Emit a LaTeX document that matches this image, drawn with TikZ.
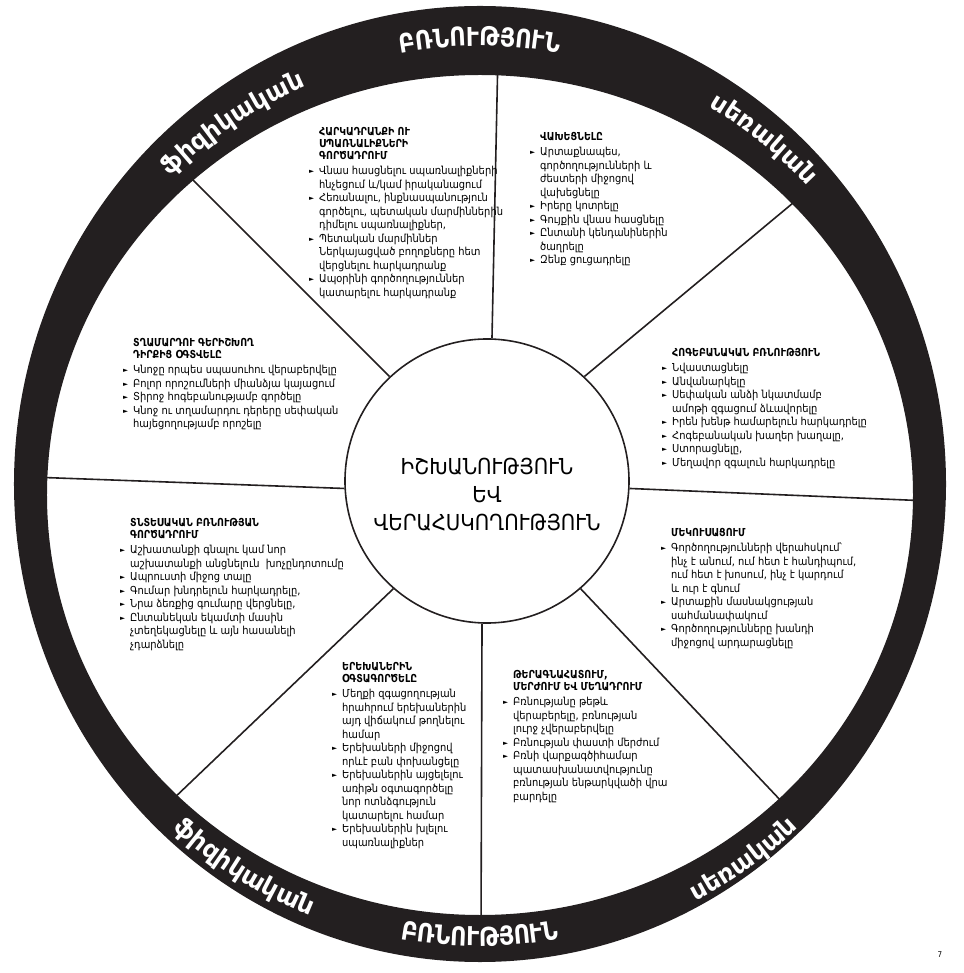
\documentclass[tikz,border=0pt]{standalone}
\usepackage{fontspec}
\setmainfont{DejaVu Sans Condensed}
\newfontfamily\hdfont{DejaVu Sans}[FakeStretch=0.86]
\newfontfamily\symfont{DejaVu Sans}
\newfontfamily\ringfont{DejaVu Sans}
\usetikzlibrary{decorations.text}

\definecolor{ringblack}{RGB}{35,31,32}

\newcommand{\bl}{\makebox[10pt][l]{\symfont\fontsize{6.5}{6.5}\selectfont\raisebox{1pt}{►}}}
\newcommand{\ct}{\hspace*{10pt}}
\newcommand{\hd}[1]{\ct{\hdfont\bfseries\fontsize{11}{12}\selectfont #1}}
\newcommand{\ringlbl}{\ringfont\bfseries\fontsize{25}{25}\selectfont}
\newcommand{\ringcaps}{\hdfont\bfseries\fontsize{26}{26}\selectfont}

\begin{document}
\begin{tikzpicture}[x=1pt,y=1pt]

	\tikzstyle{segment}=[anchor=north west,inner sep=0pt,align=left,
		font=\fontsize{11}{13.5}\selectfont]
	\tikzstyle{spoke}=[line width=1.6pt,draw=ringblack]
	\tikzstyle{ringtext}=[decorate,decoration={text along path,text align=center,text color=white}]

	\useasboundingbox (-480,-491) rectangle (483,482);

	% spokes first, the ring covers their outer ends
	\node[circle,draw=ringblack,line width=1.6pt,minimum size=284pt,inner sep=0pt] (core) at (7,1) {};
	\node[align=center,font=\fontsize{22}{28}\selectfont] (power) at (7,-13) {ԻՇԽԱՆՈՒԹՅՈՒՆ\\ԵՎ\\ՎԵՐԱՀՍԿՈՂՈՒԹՅՈՒՆ};

	\coordinate (rim1) at (18,430);
	\coordinate (rim2) at (331,294);
	\coordinate (rim3) at (450,-19);
	\coordinate (rim4) at (320,-339);
	\coordinate (rim5) at (1,-450);
	\coordinate (rim6) at (-310,-320);
	\coordinate (rim7) at (-450,5);
	\coordinate (rim8) at (-300,315);

	\foreach \a/\r in {88.8/rim1,47/rim2,-3.6/rim3,-49.6/rim4,268/rim5,229/rim6,183.6/rim7,133.3/rim8}
		\draw[spoke] (core.\a) -- (\r);

	\fill[ringblack,even odd rule] (0,-2) ellipse [x radius=466,y radius=478] (0,-13) ellipse [x radius=433,y radius=420];

	\path[ringtext,decoration={text={|\ringcaps|ԲՌՆՈՒԹՅՈՒՆ}}] (0,-8) ++(115:444) arc[start angle=115,end angle=65,radius=444];
	\path[ringtext,decoration={text={|\ringlbl|ֆիզիկական}}] (0,-8) ++(150:440) arc[start angle=150,end angle=98,radius=440];
	\path[ringtext,decoration={text={|\ringlbl|սեռական}}] (0,-8) ++(75:447) arc[start angle=75,end angle=27,radius=447];
	\path[ringtext,decoration={text={|\ringlbl|սեռական}}] (0,-8) ++(-78:464) arc[start angle=-78,end angle=-31,radius=464];
	\path[ringtext,decoration={text={|\ringcaps|ԲՌՆՈՒԹՅՈՒՆ}}] (0,-8) ++(245:456) arc[start angle=245,end angle=295,radius=456];
	\path[ringtext,decoration={text={|\ringlbl|ֆիզիկական}}] (0,-8) ++(212:458) arc[start angle=212,end angle=264,radius=458];

	\node[segment] (coercion) at (-171,355) {\hd{ՀԱՐԿԱԴՐԱՆՔԻ ՈՒ}\\[-1.5pt]\hd{ՍՊԱՌՆԱԼԻՔՆԵՐԻ}\\[-1.5pt]\hd{ԳՈՐԾԱԴՐՈՒՄ}\\[2pt]
		\bl Վնաս հասցնելու սպառնալիքների\\\ct հնչեցում և/կամ իրականացում\\
		\bl Հեռանալու, ինքնասպանություն\\\ct գործելու, պետական մարմիններին\\\ct դիմելու սպառնալիքներ,\\
		\bl Պետական մարմիններ\\\ct Ներկայացված բողոքները հետ\\\ct վերցնելու հարկադրանք\\
		\bl Ապօրինի գործողություններ\\\ct կատարելու հարկադրանք};

	\node[segment] (intimidation) at (50,350) {\hd{ՎԱԽԵՑՆԵԼԸ}\\[2pt]
		\bl Արտաքնապես,\\\ct գործողությունների և\\\ct ժեստերի միջոցով\\\ct վախեցնելը\\
		\bl Իրերը կոտրելը\\
		\bl Գույքին վնաս հասցնելը\\
		\bl Ընտանի կենդանիներին\\\ct ծաղրելը\\
		\bl Զենք ցուցադրելը};

	\node[segment] (emotional) at (182,134) {\hd{ՀՈԳԵԲԱՆԱԿԱՆ ԲՌՆՈՒԹՅՈՒՆ}\\[2pt]
		\bl Նվաստացնելը\\
		\bl Անվանարկելը\\
		\bl Սեփական անձի նկատմամբ\\\ct ամոթի զգացում ձևավորելը\\
		\bl Իրեն խենթ համարելուն հարկադրելը\\
		\bl Հոգեբանական խաղեր խաղալը,\\
		\bl Ստորացնելը,\\
		\bl Մեղավոր զգալուն հարկադրելը};

	\node[segment] (isolation) at (181,-46) {\hd{ՄԵԿՈՒՍԱՑՈՒՄ}\\[2pt]
		\bl Գործողությունների վերահսկում՝\\\ct ինչ է անում, ում հետ է հանդիպում,\\\ct ում հետ է խոսում, ինչ է կարդում\\\ct և ուր է գնում\\
		\bl Արտաքին մասնակցության\\\ct սահմանափակում\\
		\bl Գործողությունները խանդի\\\ct միջոցով արդարացնելը};

	\node[segment] (minimizing) at (23,-188) {\hd{ԹԵՐԱԳՆԱՀԱՏՈՒՄ,}\\[-1.5pt]\hd{ՄԵՐԺՈՒՄ ԵՎ ՄԵՂԱԴՐՈՒՄ}\\[2pt]
		\bl Բռնությանը թեթև\\\ct վերաբերելը, բռնության\\\ct լուրջ չվերաբերվելը\\
		\bl Բռնության փաստի մերժում\\
		\bl Բռնի վարքագծիհամար\\\ct պատասխանատվությունը\\\ct բռնության ենթարկվածի վրա\\\ct բարդելը};

	\node[segment] (children) at (-148,-180) {\hd{ԵՐԵԽԱՆԵՐԻՆ}\\[-1.5pt]\hd{ՕԳՏԱԳՈՐԾԵԼԸ}\\[2pt]
		\bl Մեղքի զգացողության\\\ct հրահրում երեխաներին\\\ct այդ վիճակում թողնելու\\\ct համար\\
		\bl Երեխաների միջոցով\\\ct որևէ բան փոխանցելը\\
		\bl Երեխաներին այցելելու\\\ct առիթն օգտագործելը\\\ct նոր ոտնձգություն\\\ct կատարելու համար\\
		\bl Երեխաներին խլելու\\\ct սպառնալիքներ};

	\node[segment] (economic) at (-360,-36) {\hd{ՏՆՏԵՍԱԿԱՆ ԲՌՆՈՒԹՅԱՆ}\\[-1.5pt]\hd{ԳՈՐԾԱԴՐՈՒՄ}\\[2pt]
		\bl Աշխատանքի գնալու կամ նոր\\\ct աշխատանքի անցնելուն\ \ խոչընդոտումը\\
		\bl Ապրուստի միջոց տալը\\
		\bl Գումար խնդրելուն հարկադրելը,\\
		\bl Նրա ձեռքից գումարը վերցնելը,\\
		\bl Ընտանեկան եկամտի մասին\\\ct չտեղեկացնելը և այն հասանելի\\\ct չդարձնելը};

	\node[segment] (privilege) at (-357,144) {\hd{ՏՂԱՄԱՐԴՈՒ ԳԵՐԻՇԽՈՂ}\\[-1.5pt]\hd{ԴԻՐՔԻՑ ՕԳՏՎԵԼԸ}\\[2pt]
		\bl Կնոջը որպես սպասուհու վերաբերվելը\\
		\bl Բոլոր որոշումների միանձյա կայացում\\
		\bl Տիրոջ հոգեբանությամբ գործելը\\
		\bl Կնոջ ու տղամարդու դերերը սեփական\\\ct հայեցողությամբ որոշելը};

	\node[font=\fontsize{8}{8}\selectfont] (pagenum) at (460,-473) {7};

\end{tikzpicture}
\end{document}
